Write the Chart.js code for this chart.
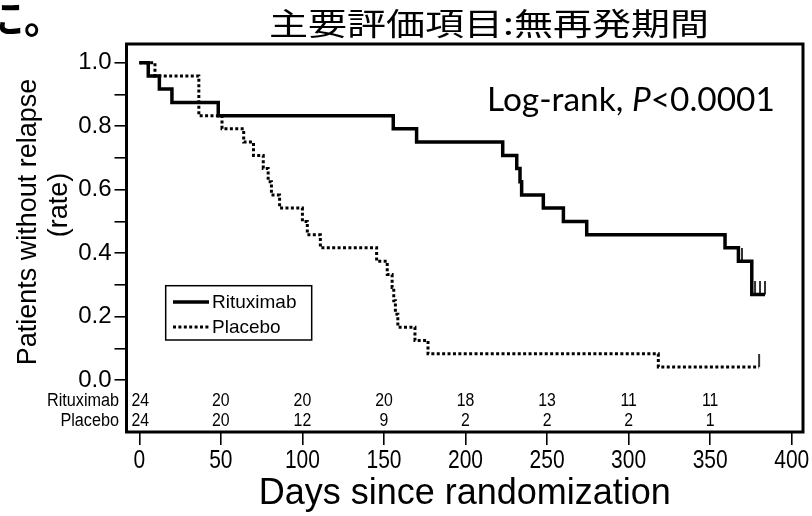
<!DOCTYPE html>
<html><head><meta charset="utf-8">
<script src="https://cdn.jsdelivr.net/npm/chart.js@4.4.1/dist/chart.umd.min.js"></script>
<style>html,body{margin:0;padding:0;background:#fff;overflow:hidden}#wrap{width:812px;height:516px;position:relative}</style>
</head><body><div id="wrap"><canvas id="c" width="812" height="516"></canvas></div>
<script>
// ---------- texts ----------
const chartTitle = '主要評価項目:無再発期間';
const cutText = 'に。';
const annotationParts = ['Log-rank, ', 'P', '<0.0001'];
const yTitleLines = ['Patients without relapse', '(rate)'];
const xTitle = 'Days since randomization';
const seriesNames = ['Rituximab', 'Placebo'];

// ---------- data ----------
const rituximabDays = [0, 5.5, 12.3, 20, 48.4, 155.7, 170, 222.8, 231.4, 233.4, 234.4, 247.7, 260, 274.3, 359.1, 367.3, 375.5, 383.6];
const rituximabSurv = [1.0, 0.958, 0.917, 0.875, 0.833, 0.792, 0.75, 0.708, 0.667, 0.625, 0.583, 0.542, 0.5, 0.458, 0.417, 0.375, 0.27, 0.27];
const rituximabCensorDays = [369.5, 377.5, 380.5, 383.6];
const rituximabCensorSurv = [0.375, 0.27, 0.27, 0.27];

const placeboDays = [0, 9.6, 36.5, 50.7, 64, 70, 76, 79, 81, 86, 100, 103, 111, 145.5, 152, 155, 156, 157, 158.5, 169, 177, 318.2, 380];
const placeboSurv = [1.0, 0.958, 0.833, 0.792, 0.75, 0.708, 0.667, 0.625, 0.583, 0.542, 0.5, 0.458, 0.417, 0.375, 0.333, 0.292, 0.25, 0.208, 0.167, 0.125, 0.083, 0.042, 0.042];
const placeboCensorDays = [380];
const placeboCensorSurv = [0.042];

const riskDays = [0, 50, 100, 150, 200, 250, 300, 350];
const rituximabAtRisk = [24, 20, 20, 20, 18, 13, 11, 11];
const placeboAtRisk = [24, 20, 12, 9, 2, 2, 2, 1];

const xTicks = [0, 50, 100, 150, 200, 250, 300, 350, 400];
const xTickLabels = ['0', '50', '100', '150', '200', '250', '300', '350', '400'];
const yTicks = [0, 0.1, 0.2, 0.3, 0.4, 0.5, 0.6, 0.7, 0.8, 0.9, 1.0];
const yTickLabels = ['0.0', '', '0.2', '', '0.4', '', '0.6', '', '0.8', '', '1.0'];

// ---------- helpers ----------
const toPts = (xs, ys) => xs.map((x, i) => ({x: x, y: ys[i]}));
function censorTick(h) {
  const c = document.createElement('canvas');
  c.width = 4; c.height = 2 * h;
  const g = c.getContext('2d');
  g.fillStyle = '#000';
  g.fillRect(1.2, 0, 1.6, h);
  return c;
}
const tickImg = censorTick(13);
const FONT = '"Liberation Sans", Arial, sans-serif';

function condensedText(ctx, text, x, y, sx) {
  ctx.save(); ctx.translate(x, y); ctx.scale(sx, 1); ctx.fillText(text, 0, 0); ctx.restore();
}

const decor = {
  id: 'decor',
  beforeDraw(chart) {
    const ctx = chart.ctx;
    ctx.save(); ctx.fillStyle = '#fff'; ctx.fillRect(0, 0, chart.width, chart.height); ctx.restore();
  },
  afterDraw(chart) {
    const {ctx, chartArea: a, scales} = chart;
    const xs = scales.x;
    ctx.save();
    ctx.fillStyle = '#000';
    ctx.strokeStyle = '#000';
    // frame
    ctx.lineWidth = 3;
    ctx.strokeRect(a.left, a.top, a.right - a.left, a.bottom - a.top);

    // cut-off fragment at top-left
    ctx.font = 'bold 40px "Noto Sans CJK JP"';
    ctx.textAlign = 'left'; ctx.textBaseline = 'alphabetic';
    ctx.fillText(cutText, -16, 33);

    // main title (horizontally stretched like the reference)
    ctx.font = '31px "Noto Sans CJK JP"';
    const tw = ctx.measureText(chartTitle).width;
    ctx.textAlign = 'center'; ctx.textBaseline = 'middle';
    condensedText(ctx, chartTitle, 489, 23.5, 440 / tw);

    // Log-rank annotation
    const fam = 'Lato, "Open Sans", sans-serif';
    let fs = 34;
    const fonts = [fs + 'px ' + fam, 'italic ' + fs + 'px ' + fam, fs + 'px ' + fam];
    let tot = 0;
    annotationParts.forEach((t, i) => { ctx.font = fonts[i]; tot += ctx.measureText(t).width; });
    fs = fs * 288 / tot;
    const fonts2 = [fs + 'px ' + fam, 'italic ' + fs + 'px ' + fam, fs + 'px ' + fam];
    let ax = 487;
    ctx.textAlign = 'left'; ctx.textBaseline = 'alphabetic';
    annotationParts.forEach((t, i) => { ctx.font = fonts2[i]; ctx.fillText(t, ax, 111); ax += ctx.measureText(t).width; });

    // x tick labels (condensed, like the reference)
    ctx.font = '25px ' + FONT;
    ctx.textAlign = 'center'; ctx.textBaseline = 'middle';
    xs.ticks.forEach((t, i) => {
      condensedText(ctx, xTickLabels[i], xs.getPixelForValue(t.value), 461, 0.84);
    });

    // y-axis title (two rotated lines)
    ctx.font = '27px ' + FONT;
    ctx.textAlign = 'center'; ctx.textBaseline = 'alphabetic';
    const yPos = [[36, 222], [67, 205]];
    yTitleLines.forEach((t, i) => {
      ctx.save(); ctx.translate(yPos[i][0], yPos[i][1]); ctx.rotate(-Math.PI / 2);
      ctx.fillText(t, 0, 0); ctx.restore();
    });

    // legend
    const lb = {x: 165.7, y: 285.7, w: 146, h: 54.3};
    ctx.lineWidth = 1.5;
    ctx.strokeRect(lb.x, lb.y, lb.w, lb.h);
    const rows = [302, 327];
    ctx.font = '19px ' + FONT;
    ctx.textAlign = 'left'; ctx.textBaseline = 'middle';
    [0, 1].forEach(i => {
      const ds = chart.data.datasets[i];
      ctx.save();
      ctx.lineWidth = ds.borderWidth;
      ctx.setLineDash(ds.borderDash || []);
      ctx.lineCap = 'butt';
      ctx.beginPath(); ctx.moveTo(173, rows[i]); ctx.lineTo(209, rows[i]); ctx.stroke();
      ctx.restore();
      ctx.fillText(ds.label, 212, rows[i] + 0.5);
    });

    // number at risk table
    ctx.font = '18px ' + FONT;
    ctx.textBaseline = 'middle';
    const riskRows = [401, 421];
    const riskVals = [rituximabAtRisk, placeboAtRisk];
    [0, 1].forEach(r => {
      ctx.textAlign = 'right';
      condensedText(ctx, seriesNames[r], 119, riskRows[r], 0.9);
      ctx.textAlign = 'center';
      riskDays.forEach((d, i) => {
        let px = xs.getPixelForValue(d);
        if (i === 0) px += 1;
        condensedText(ctx, String(riskVals[r][i]), px, riskRows[r], 0.88);
      });
    });
    ctx.restore();
  }
};

new Chart(document.getElementById('c'), {
  type: 'scatter',
  data: {
    datasets: [
      {label: seriesNames[0], data: toPts(rituximabDays, rituximabSurv), showLine: true, stepped: true,
       borderColor: '#000', borderWidth: 3.5, pointRadius: 0, borderCapStyle: 'butt', borderJoinStyle: 'miter'},
      {label: seriesNames[1], data: toPts(placeboDays, placeboSurv), showLine: true, stepped: true,
       borderColor: '#000', borderWidth: 3, borderDash: [3, 2.4], pointRadius: 0, borderCapStyle: 'butt', borderJoinStyle: 'miter'},
      {label: '', data: toPts(rituximabCensorDays, rituximabCensorSurv), showLine: false,
       pointStyle: tickImg, pointRadius: 6, borderColor: '#000', backgroundColor: '#000'},
      {label: '', data: toPts(placeboCensorDays, placeboCensorSurv), showLine: false,
       pointStyle: tickImg, pointRadius: 6, borderColor: '#000', backgroundColor: '#000'}
    ]
  },
  options: {
    responsive: false, animation: false, devicePixelRatio: 1,
    layout: {padding: {top: 44, right: 9, left: 0, bottom: 0}},
    plugins: {legend: {display: false}, title: {display: false}, tooltip: {enabled: false}},
    events: [],
    scales: {
      x: {
        type: 'linear', min: -7.85, max: 406.9,
        afterBuildTicks: s => { s.ticks = xTicks.map(v => ({value: v})); },
        afterFit: s => { s.height = 84; },
        grid: {drawOnChartArea: false, drawTicks: true, tickLength: 13, color: '#000', lineWidth: 1.6},
        border: {display: false},
        ticks: {display: false, autoSkip: false, maxRotation: 0},
        title: {display: true, text: xTitle, color: '#000', font: {family: FONT, size: 36}, padding: {top: 0, bottom: 0}}
      },
      y: {
        type: 'linear', min: -0.1631, max: 1.0589,
        afterBuildTicks: s => { s.ticks = yTicks.map(v => ({value: v})); },
        afterFit: s => { s.width = 126.5; },
        grid: {drawOnChartArea: false, drawTicks: true, tickLength: 12, color: '#000', lineWidth: 1.6},
        border: {display: false},
        ticks: {autoSkip: false, padding: 3, color: '#000', font: {family: FONT, size: 24},
                callback: (v, i) => yTickLabels[i]}
      }
    }
  },
  plugins: [decor]
});
</script>
</body></html>
